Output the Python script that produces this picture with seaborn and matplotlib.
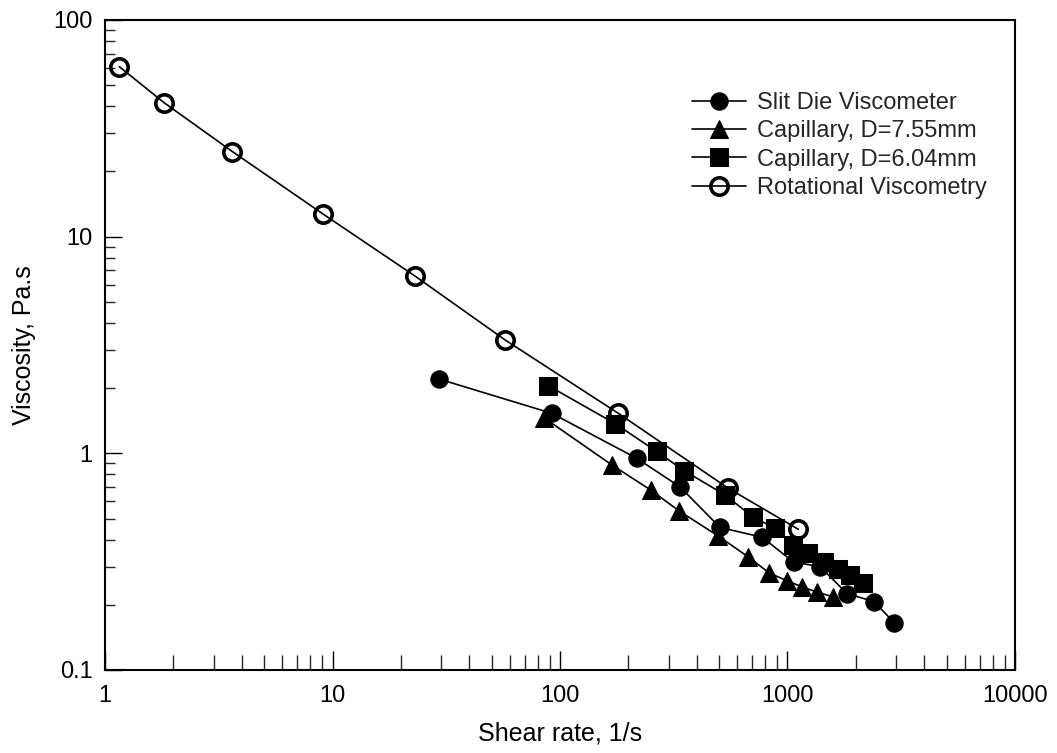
import matplotlib
matplotlib.use("Agg")
import matplotlib.pyplot as plt
import seaborn as sns
import numpy as np
import pandas as pd
from matplotlib.ticker import FixedLocator, FixedFormatter, LogLocator, NullFormatter

sns.set_theme(style="white")
plt.rcParams["font.family"] = ["Liberation Sans", "DejaVu Sans"]

# Viscosity curves (shear rate in 1/s, viscosity in Pa.s)
slit_rate = [29.5, 92, 217, 337, 505, 773, 1063, 1390, 1830, 2400, 2940]
slit_visc = [2.2, 1.53, 0.95, 0.70, 0.455, 0.41, 0.315, 0.30, 0.225, 0.207, 0.1655]

cap755_rate = [85, 169, 250, 334, 495, 671, 829, 995, 1158, 1348, 1585]
cap755_visc = [1.46, 0.884, 0.678, 0.542, 0.416, 0.333, 0.281, 0.258, 0.242, 0.229, 0.2175]

cap604_rate = [89, 175, 266, 351, 531, 702, 881, 1057, 1230, 1447, 1667, 1883, 2147]
cap604_visc = [2.05, 1.37, 1.02, 0.832, 0.643, 0.510, 0.451, 0.378, 0.347, 0.315, 0.293, 0.275, 0.252]

rot_rate = [1.156, 1.82, 3.63, 9.11, 23.0, 57.3, 180.4, 549, 1116]
rot_visc = [60.9, 41.5, 24.7, 12.7, 6.59, 3.34, 1.53, 0.690, 0.446]

series_names = ["Slit Die Viscometer", "Capillary, D=7.55mm",
                "Capillary, D=6.04mm", "Rotational Viscometry"]

fig = plt.figure(figsize=(10.57, 7.53), dpi=100)
ax = fig.add_axes([105 / 1057, 1 - 670 / 753, 910 / 1057, 650 / 753])

common = dict(color="black", linewidth=1.2, markersize=12.5, sort=False,
              estimator=None, ax=ax)

sns.lineplot(x=slit_rate, y=slit_visc, marker="o", markeredgecolor="black",
             markerfacecolor="black", label=series_names[0], **common)
sns.lineplot(x=cap755_rate, y=cap755_visc, marker="^", markeredgecolor="black",
             markerfacecolor="black", label=series_names[1], **common)
sns.lineplot(x=cap604_rate, y=cap604_visc, marker="s", markeredgecolor="black",
             markerfacecolor="black", label=series_names[2], **common)
sns.lineplot(x=rot_rate, y=rot_visc, marker="o", markeredgecolor="black",
             markerfacecolor="none", markeredgewidth=2.6,
             label=series_names[3], **common)

ax.set_xscale("log")
ax.set_yscale("log")
ax.set_xlim(1, 10000)
ax.set_ylim(0.1, 100)

x_ticks = [1, 10, 100, 1000, 10000]
x_labels = ["1", "10", "100", "1000", "10000"]
y_ticks = [0.1, 1, 10, 100]
y_labels = ["0.1", "1", "10", "100"]

ax.xaxis.set_major_locator(FixedLocator(x_ticks))
ax.xaxis.set_major_formatter(FixedFormatter(x_labels))
ax.yaxis.set_major_locator(FixedLocator(y_ticks))
ax.yaxis.set_major_formatter(FixedFormatter(y_labels))
ax.xaxis.set_minor_locator(LogLocator(base=10, subs=np.arange(2, 10)))
ax.yaxis.set_minor_locator(LogLocator(base=10, subs=np.arange(2, 10)))
ax.xaxis.set_minor_formatter(NullFormatter())
ax.yaxis.set_minor_formatter(NullFormatter())

ax.tick_params(axis="x", which="major", direction="in", length=14, width=1.0,
               bottom=True, top=False, labelsize=17, pad=11, colors="black")
ax.tick_params(axis="x", which="minor", direction="in", length=11, width=1.0,
               bottom=True, top=False)
ax.tick_params(axis="y", which="major", direction="in", length=12, width=1.0,
               left=True, right=False, labelsize=17, pad=9, colors="black")
ax.tick_params(axis="y", which="minor", direction="in", length=7, width=1.0,
               left=True, right=False)

for side in ["left", "bottom", "top", "right"]:
    ax.spines[side].set_color("black")
    ax.spines[side].set_linewidth(1.5)
    ax.spines[side].set_visible(True)

ax.set_xlabel("Shear rate, 1/s", fontsize=18, labelpad=10, color="black")
ax.set_ylabel("Viscosity, Pa.s", fontsize=18, labelpad=12, color="black")

leg = ax.legend(loc="upper left", bbox_to_anchor=((692 - 105) / 910, (670 - 92) / 650),
                frameon=False, fontsize=17, handlelength=2.3, handletextpad=0.45,
                labelspacing=0.27, borderpad=0, borderaxespad=0, markerscale=1.0)

fig.savefig("out.png", dpi=100, facecolor="white")
